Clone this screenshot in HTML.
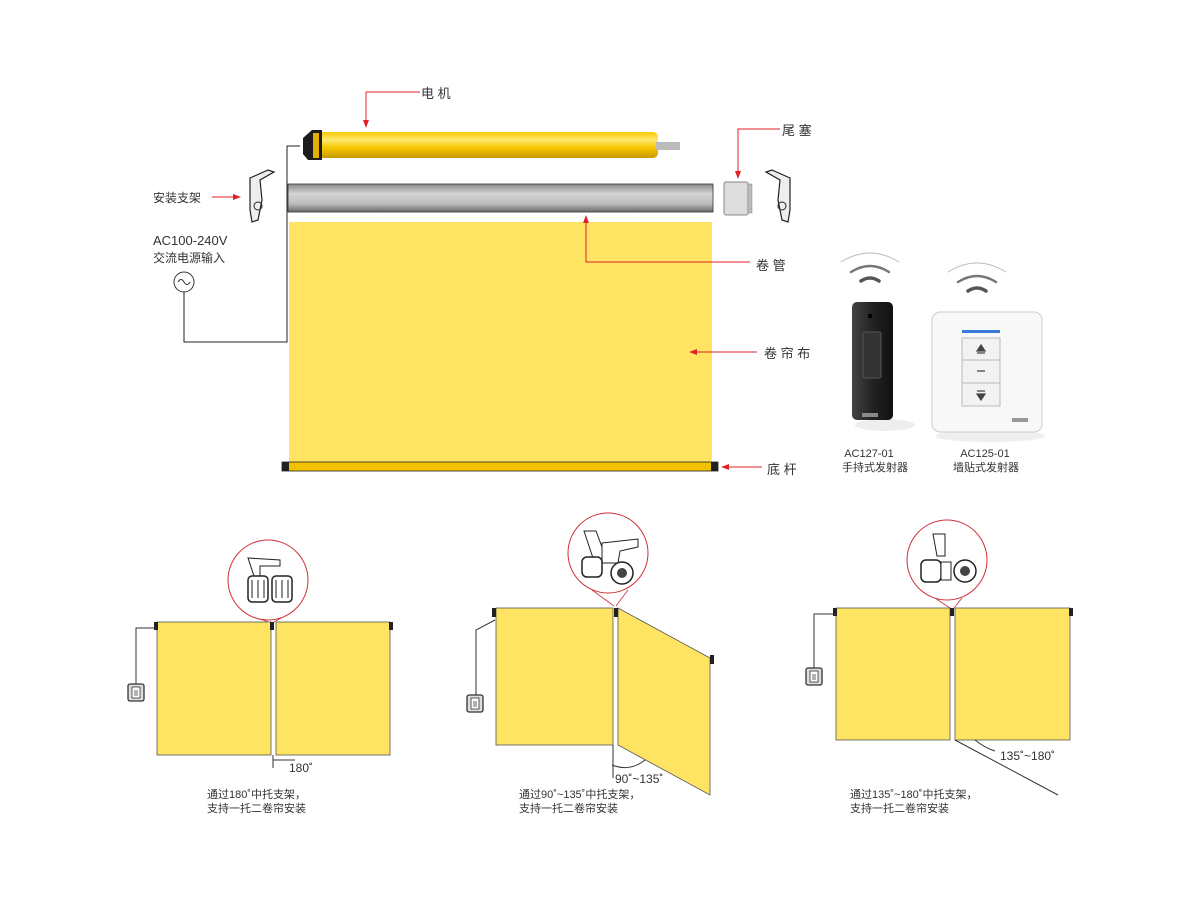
<!DOCTYPE html>
<html><head><meta charset="utf-8"><style>
html,body{margin:0;padding:0;background:#fff}
svg{display:block}
text{font-family:"Liberation Sans","Noto Sans CJK SC",sans-serif;fill:#333}
</style></head><body>
<svg width="1200" height="899" viewBox="0 0 1200 899" xmlns="http://www.w3.org/2000/svg">
<defs>
<linearGradient id="yel" x1="0" y1="0" x2="0" y2="1">
<stop offset="0" stop-color="#f7c800"/><stop offset="0.3" stop-color="#ffe870"/><stop offset="0.6" stop-color="#f6c800"/><stop offset="1" stop-color="#c89a00"/></linearGradient>
<linearGradient id="gry" x1="0" y1="0" x2="0" y2="1">
<stop offset="0" stop-color="#8a8a8a"/><stop offset="0.35" stop-color="#d4d4d4"/><stop offset="0.7" stop-color="#bdbdbd"/><stop offset="1" stop-color="#6a6a6a"/></linearGradient>
<linearGradient id="blk" x1="0" y1="0" x2="1" y2="0">
<stop offset="0" stop-color="#444"/><stop offset="0.5" stop-color="#222"/><stop offset="1" stop-color="#111"/></linearGradient>
<marker id="ar" markerWidth="8" markerHeight="8" refX="7" refY="4" orient="auto" markerUnits="userSpaceOnUse"><path d="M0,1 L8,4 L0,7 z" fill="#e0222a"/></marker>
<g id="brk"><path d="M0,8 L18,0 L24,2 L10,10 L12,30 L8,50 L2,52 L0,40 Z" fill="#eee" stroke="#222" stroke-width="1.2"/><circle cx="8" cy="36" r="4" fill="none" stroke="#222"/></g>
<g id="sw"><rect x="0" y="0" width="16" height="17" rx="2" fill="#ddd" stroke="#333" stroke-width="1.3"/><rect x="4" y="3" width="8" height="11" fill="#fff" stroke="#333" stroke-width="0.8"/><path d="M6,7h4M6,9h4M6,11h4" stroke="#333" stroke-width="0.7"/></g>
<g id="mag"><circle r="40" fill="#fff" stroke="#d0303a" stroke-width="1"/></g>
</defs>

<path d="M366,92 H420" stroke="#e0222a" fill="none"/>
<path d="M366,92 V127" stroke="#e0222a" fill="none" marker-end="url(#ar)"/>
<text x="421" y="98" font-size="13">电 机</text>
<rect x="318" y="132" width="340" height="26" rx="5" fill="url(#yel)"/>
<rect x="656" y="142" width="24" height="8" fill="#bbb"/>
<path d="M303,138 L312,130 L322,130 L322,160 L308,160 L303,154Z" fill="#1c1c1c"/>
<rect x="313" y="133" width="6" height="25" fill="#e4b000"/>
<path d="M300,146 H287 V342 H184 V292" stroke="#222" fill="none"/>
<circle cx="184" cy="282" r="10" fill="#fff" stroke="#333"/>
<path d="M178,282 q3,-5 6,0 t6,0" stroke="#333" fill="none"/>
<text x="153" y="245" font-size="13">AC100-240V</text>
<text x="153" y="262" font-size="12">交流电源输入</text>
<use href="#brk" x="250" y="170"/>
<g transform="translate(790,170) scale(-1,1)"><use href="#brk"/></g>
<text x="153" y="202" font-size="12">安装支架</text>
<path d="M212,197 H240" stroke="#e0222a" marker-end="url(#ar)"/>
<rect x="288" y="184" width="425" height="28" fill="url(#gry)" stroke="#333" stroke-width="0.8"/>
<rect x="724" y="182" width="24" height="33" rx="2" fill="#ddd" stroke="#888"/>
<rect x="748" y="184" width="4" height="29" fill="#bbb" stroke="#888" stroke-width="0.5"/>
<path d="M780,129 H738 V178" stroke="#e0222a" fill="none" marker-end="url(#ar)"/>
<text x="782" y="135" font-size="13">尾 塞</text>
<rect x="289" y="222" width="423" height="241" fill="#fee462"/>
<path d="M750,262 H586 V216" stroke="#e0222a" fill="none" marker-end="url(#ar)"/>
<text x="756" y="270" font-size="13">卷 管</text>
<path d="M757,352 H690" stroke="#e0222a" marker-end="url(#ar)"/>
<text x="764" y="358" font-size="13">卷 帘 布</text>
<rect x="282" y="462" width="436" height="9" fill="#f2c200" stroke="#222" stroke-width="0.8"/>
<rect x="282" y="462" width="7" height="9" fill="#222"/><rect x="711" y="462" width="7" height="9" fill="#222"/>
<path d="M762,467 H722" stroke="#e0222a" marker-end="url(#ar)"/>
<text x="767" y="474" font-size="13">底 杆</text>

<g fill="none" stroke-linecap="round">
<path d="M841,262 Q870,244 899,262" stroke="#bbb" stroke-width="1"/>
<path d="M851,272 Q870,260 889,272" stroke="#777" stroke-width="2.5"/>
<path d="M861,281 Q870,275 879,281" stroke="#555" stroke-width="3.5"/>
<path d="M948,272 Q977,254 1006,272" stroke="#bbb" stroke-width="1"/>
<path d="M958,282 Q977,270 996,282" stroke="#777" stroke-width="2.5"/>
<path d="M968,291 Q977,285 986,291" stroke="#555" stroke-width="3.5"/>
</g>
<ellipse cx="885" cy="425" rx="30" ry="6" fill="#eee"/>
<rect x="852" y="302" width="41" height="118" rx="5" fill="url(#blk)"/>
<rect x="863" y="332" width="18" height="46" rx="2" fill="#333" stroke="#555"/>
<rect x="868" y="314" width="4" height="4" fill="#000"/>
<rect x="862" y="413" width="16" height="4" fill="#888"/>
<ellipse cx="990" cy="436" rx="55" ry="6" fill="#eee"/>
<rect x="932" y="312" width="110" height="120" rx="8" fill="#f8f8f8" stroke="#ccc"/>
<rect x="962" y="330" width="38" height="3" fill="#3a7ad8"/>
<rect x="962" y="338" width="38" height="68" fill="#f2f2f2" stroke="#bbb"/>
<path d="M962,360 H1000 M962,383 H1000" stroke="#bbb"/>
<path d="M977,351 L981,345 L985,351Z M977,353 H985 M977,371 H985 M977,391 H985 M977,394 L981,400 L985,394Z" fill="#444" stroke="#444" stroke-width="1.2"/>
<rect x="1012" y="418" width="16" height="4" fill="#999"/>
<text x="869" y="457" font-size="11" text-anchor="middle">AC127-01</text>
<text x="875" y="471" font-size="11" text-anchor="middle">手持式发射器</text>
<text x="985" y="457" font-size="11" text-anchor="middle">AC125-01</text>
<text x="986" y="471" font-size="11" text-anchor="middle">墙贴式发射器</text>

<path d="M248,614 L268,622 M288,614 L274,622" stroke="#d0303a" stroke-width="0.8"/>
<g transform="translate(268,580)"><use href="#mag"/>
<path d="M-20,-22 L12,-20 L12,-14 L-8,-14 L-8,-4 L-14,-4 Z" fill="#fff" stroke="#222"/>
<rect x="-20" y="-4" width="20" height="26" rx="4" fill="#fff" stroke="#222" stroke-width="1.5"/>
<rect x="4" y="-4" width="20" height="26" rx="4" fill="#fff" stroke="#222" stroke-width="1.5"/>
<path d="M-16,0v18M-10,0v18M-4,0v18M8,0v18M14,0v18M20,0v18" stroke="#222"/></g>
<rect x="157" y="622" width="114" height="133" fill="#fee462" stroke="#555" stroke-width="0.8"/>
<rect x="276" y="622" width="114" height="133" fill="#fee462" stroke="#555" stroke-width="0.8"/>
<rect x="154" y="622" width="4" height="8" fill="#222"/><rect x="270" y="622" width="4" height="8" fill="#222"/><rect x="389" y="622" width="4" height="8" fill="#222"/>
<path d="M157,628 H136 V684" stroke="#333" fill="none"/>
<use href="#sw" x="128" y="684"/>
<path d="M273,755 V768 M273,760 H295" stroke="#333" fill="none"/>
<text x="289" y="772" font-size="12">180˚</text>
<text x="207" y="798" font-size="11">通过180˚中托支架，</text>
<text x="207" y="812" font-size="11">支持一托二卷帘安装</text>

<path d="M592,590 L614,606 M628,590 L616,606" stroke="#d0303a" stroke-width="0.8"/>
<g transform="translate(608,553)"><use href="#mag"/>
<path d="M-24,-22 L-12,-22 L-6,-6 L-6,8 L-14,8 Z" fill="#fff" stroke="#222"/>
<path d="M-6,-10 L30,-14 L30,-6 L12,-2 L10,10 L-6,10Z" fill="#fff" stroke="#222"/>
<rect x="-26" y="4" width="20" height="20" rx="5" fill="#fff" stroke="#222" stroke-width="1.5"/>
<circle cx="14" cy="20" r="11" fill="#fff" stroke="#222" stroke-width="1.5"/><circle cx="14" cy="20" r="5" fill="#444"/></g>
<rect x="496" y="608" width="117" height="137" fill="#fee462" stroke="#555" stroke-width="0.8"/>
<path d="M618,608 L710,658 L710,795 L618,745 Z" fill="#fee462" stroke="#555" stroke-width="0.8"/>
<rect x="492" y="608" width="4" height="9" fill="#222"/><rect x="614" y="608" width="4" height="9" fill="#222"/><rect x="710" y="655" width="4" height="9" fill="#222"/>
<path d="M495,620 L476,630 V695" stroke="#333" fill="none"/>
<use href="#sw" x="467" y="695"/>
<path d="M613,745 V778 M612,765 Q630,772 645,760" stroke="#333" fill="none"/>
<text x="615" y="783" font-size="12">90˚~135˚</text>
<text x="519" y="798" font-size="11">通过90˚~135˚中托支架，</text>
<text x="519" y="812" font-size="11">支持一托二卷帘安装</text>

<path d="M935,598 L950,608 M962,598 L954,608" stroke="#d0303a" stroke-width="0.8"/>
<g transform="translate(947,560)"><use href="#mag"/>
<path d="M-14,-26 L-2,-26 L-2,-4 L-10,-4 Z" fill="#fff" stroke="#222"/>
<rect x="-26" y="0" width="20" height="22" rx="5" fill="#fff" stroke="#222" stroke-width="1.5"/>
<rect x="-6" y="2" width="10" height="18" fill="#fff" stroke="#222"/>
<circle cx="18" cy="11" r="11" fill="#fff" stroke="#222" stroke-width="1.5"/><circle cx="18" cy="11" r="5" fill="#444"/></g>
<rect x="836" y="608" width="114" height="132" fill="#fee462" stroke="#555" stroke-width="0.8"/>
<rect x="955" y="608" width="115" height="132" fill="#fee462" stroke="#555" stroke-width="0.8"/>
<rect x="833" y="608" width="4" height="8" fill="#222"/><rect x="950" y="608" width="4" height="8" fill="#222"/><rect x="1069" y="608" width="4" height="8" fill="#222"/>
<path d="M836,614 H814 V668" stroke="#333" fill="none"/>
<use href="#sw" x="806" y="668"/>
<path d="M955,740 L1058,795" stroke="#333"/>
<path d="M975,740 Q985,748 995,751" stroke="#333" fill="none"/>
<text x="1000" y="760" font-size="12">135˚~180˚</text>
<text x="850" y="798" font-size="11">通过135˚~180˚中托支架，</text>
<text x="850" y="812" font-size="11">支持一托二卷帘安装</text>
</svg>
</body></html>
